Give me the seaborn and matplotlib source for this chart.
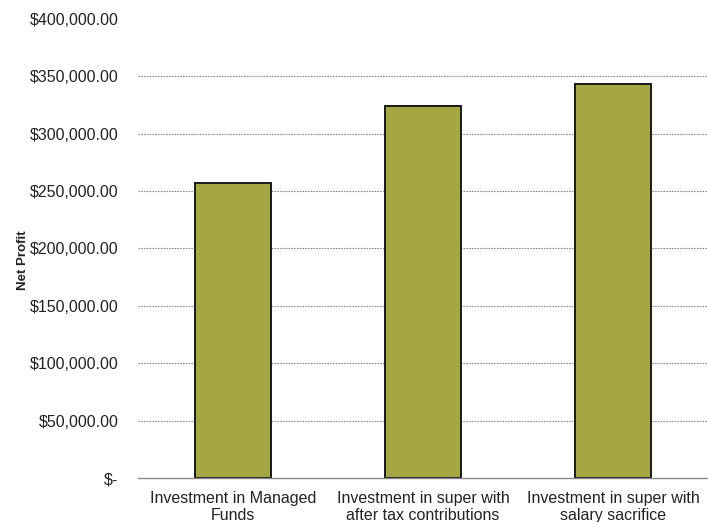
import matplotlib
matplotlib.use("Agg")
import matplotlib.pyplot as plt
import matplotlib.ticker as mticker
import pandas as pd
import seaborn as sns

categories = ["Investment in Managed\nFunds",
              "Investment in super with\nafter tax contributions",
              "Investment in super with\nsalary sacrifice"]
net_profit = [257000, 324500, 343000]
y_ticks = [0, 50000, 100000, 150000, 200000, 250000, 300000, 350000, 400000]

df = pd.DataFrame({"category": categories, "profit": net_profit})

sns.set_style("white")
plt.rcParams['font.family'] = ['Liberation Sans', 'DejaVu Sans']

fig = plt.figure(figsize=(7.08, 5.22), dpi=100)
ax = fig.add_axes([138 / 708, 44 / 522, 570 / 708, 459 / 522])

sns.barplot(data=df, x="category", y="profit", color="#A5A842", saturation=1,
            width=0.4, edgecolor="#1a1a1a", linewidth=1.4, ax=ax)

ax.set_ylim(0, 400000)
ax.set_xlim(-0.5, 2.5)
ax.set_yticks(y_ticks)
ax.yaxis.set_major_formatter(mticker.FuncFormatter(
    lambda v, p: "$-" if v == 0 else f"${v:,.2f}"))
ax.tick_params(axis="y", length=0, pad=14, labelsize=11.5, colors="#222222")
ax.set_xticks(range(len(categories)))
ax.set_xticklabels(categories, linespacing=1.2)
ax.tick_params(axis="x", which="major", length=0, pad=9, labelsize=11.5, colors="#222222")
ax.set_xticks([-0.5, 0.5, 1.5, 2.5], minor=True)
ax.tick_params(axis="x", which="minor", length=5, color="#888888", width=1)

# dotted gridlines, none at the top
for yv in y_ticks[1:-1]:
    ax.axhline(yv, color="#8c8c8c", linewidth=0.8, linestyle=(0, (1.5, 1)), zorder=0)
ax.set_axisbelow(True)

for s in ["top", "right", "left"]:
    ax.spines[s].set_visible(False)
ax.spines["bottom"].set_color("#888888")
ax.spines["bottom"].set_linewidth(1)

ax.set_xlabel("")
ax.set_ylabel("Net Profit", fontsize=9.5, fontweight="bold", color="#222222")
ax.yaxis.set_label_coords(-0.192, 0.474)

fig.savefig("out.png", dpi=100)
